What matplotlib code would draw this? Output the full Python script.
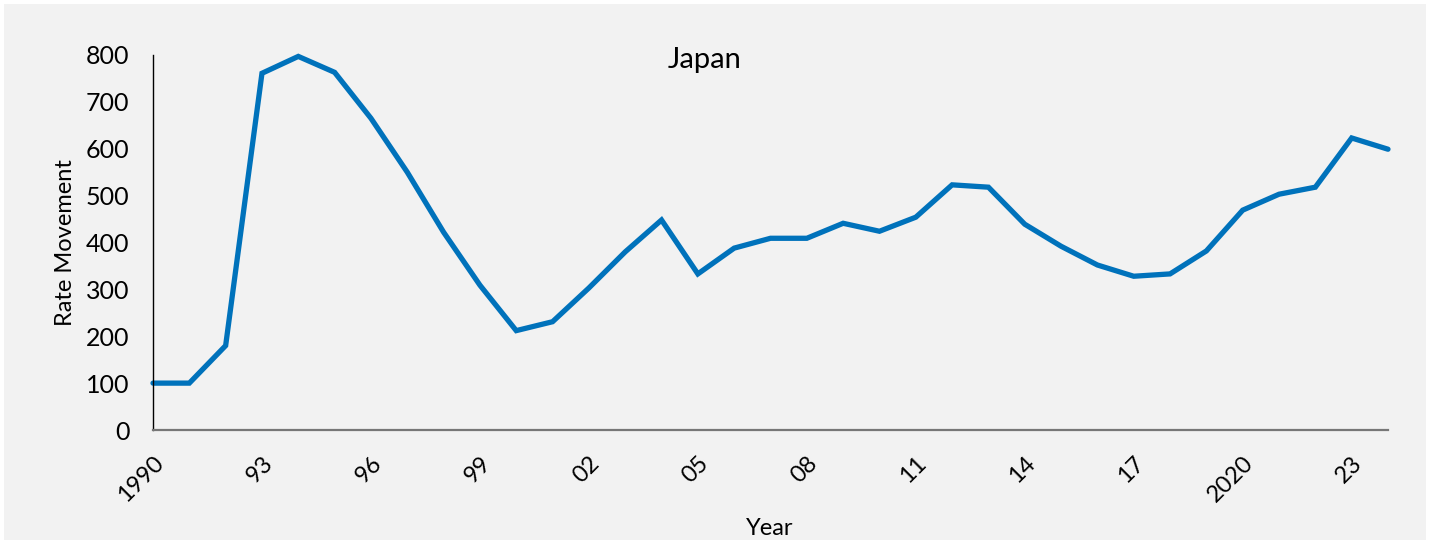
import matplotlib
matplotlib.use("Agg")
import matplotlib.pyplot as plt
from matplotlib.patches import Rectangle

years = list(range(1990, 2025))
values = [100, 100, 180, 761, 797, 763, 665, 550, 422, 309,
          212, 231, 303, 380, 448, 333, 388, 409, 409, 441,
          424, 454, 523, 518, 439, 392, 352, 328, 333, 382,
          469, 503, 518, 623, 599]
tick_years = [1990, 1993, 1996, 1999, 2002, 2005, 2008, 2011, 2014, 2017, 2020, 2023]
tick_labels = ["1990", "93", "96", "99", "02", "05", "08", "11", "14", "17", "2020", "23"]
y_ticks = [0, 100, 200, 300, 400, 500, 600, 700, 800]

plt.rcParams['font.family'] = ['Lato', 'DejaVu Sans']

W, H = 1436, 544
fig = plt.figure(figsize=(W / 100, H / 100), dpi=100, facecolor='white')
fig.patches.append(Rectangle((4 / W, 4 / H), (1426 - 4) / W, (540 - 4) / H,
                             transform=fig.transFigure, facecolor='#f2f2f2',
                             edgecolor='none', zorder=-10))

ax = fig.add_axes([153 / W, 1 - 430 / H, (1388 - 153) / W, (430 - 55) / H])
ax.set_facecolor('none')
ax.plot(years, values, color='#0072bb', linewidth=3.8, solid_joinstyle='miter',
        solid_capstyle='round', clip_on=False)

ax.set_xlim(1990, 2024)
ax.set_ylim(0, 800)
ax.set_yticks(y_ticks)
ax.set_yticklabels([str(v) for v in y_ticks], fontsize=18)
ax.set_xticks(tick_years)
ax.set_xticklabels(tick_labels, fontsize=17, rotation=45, ha='right',
                   rotation_mode='anchor')
ax.tick_params(axis='both', length=0)
ax.tick_params(axis='y', pad=17)
ax.tick_params(axis='x', pad=16)

for s in ['top', 'right']:
    ax.spines[s].set_visible(False)
ax.spines['left'].set_color('black')
ax.spines['left'].set_linewidth(1.0)
ax.spines['bottom'].set_color('#777777')
ax.spines['bottom'].set_linewidth(1.6)

ax.set_ylabel('Rate Movement', fontsize=17)
ax.yaxis.set_label_coords((76 - 153) / (1388 - 153), 0.5)
ax.set_xlabel('Year', fontsize=17)
ax.xaxis.set_label_coords((770 - 153) / (1388 - 153), -(518 - 430) / (430 - 55))

ax.text((705 - 153) / (1388 - 153), (430 - 60) / (430 - 55), 'Japan',
        transform=ax.transAxes, ha='center', va='center', fontsize=21)

fig.savefig('out.png', dpi=100, facecolor='white')
